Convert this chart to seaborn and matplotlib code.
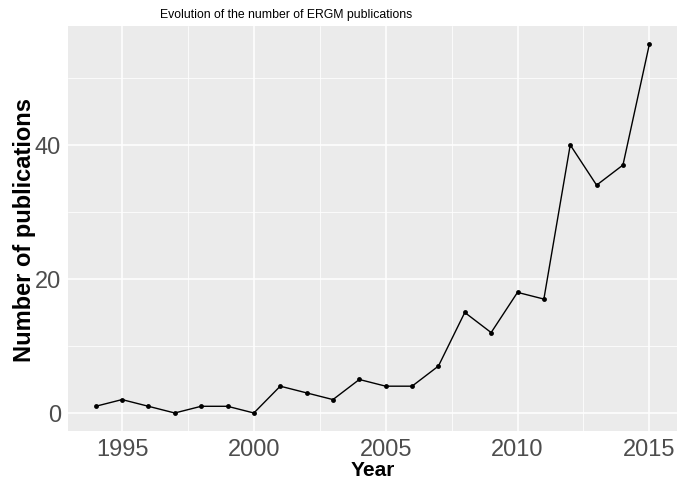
import numpy as np
import pandas as pd
import matplotlib
matplotlib.use("Agg")
import matplotlib.pyplot as plt
import seaborn as sns
from matplotlib.ticker import MultipleLocator

# Data: ERGM publications per year
years = [1994, 1995, 1996, 1997, 1998, 1999, 2000, 2001, 2002, 2003, 2004,
         2005, 2006, 2007, 2008, 2009, 2010, 2011, 2012, 2013, 2014, 2015]
counts = [1, 2, 1, 0, 1, 1, 0, 4, 3, 2, 5,
          4, 4, 7, 15, 12, 18, 17, 40, 34, 37, 55]

df = pd.DataFrame({"Year": years, "Number of publications": counts})

# ggplot-like grey theme
sns.set_style("darkgrid", {"axes.facecolor": "#EBEBEB", "grid.color": "white"})
plt.rcParams["font.family"] = ["Liberation Sans", "DejaVu Sans"]

fig = plt.figure(figsize=(6.8, 4.81), dpi=100)
ax = fig.add_axes([0.1, 0.101, 0.8956, 0.8429])

sns.lineplot(data=df, x="Year", y="Number of publications", ax=ax,
             color="black", linewidth=1.0, marker="o", markersize=3.5,
             markeredgewidth=0)

span_x = max(years) - min(years)
ax.set_xlim(min(years) - 0.05 * span_x, max(years) + 0.05 * span_x)
span_y = max(counts) - min(counts)
ax.set_ylim(min(counts) - 0.05 * span_y, max(counts) + 0.05 * span_y)

ax.xaxis.set_major_locator(MultipleLocator(5))
ax.xaxis.set_minor_locator(MultipleLocator(2.5))
ax.yaxis.set_major_locator(MultipleLocator(20))
ax.yaxis.set_minor_locator(MultipleLocator(10))
ax.grid(which="major", color="white", linewidth=1.1)
ax.grid(which="minor", color="white", linewidth=0.55)
ax.set_axisbelow(True)
for s in ax.spines.values():
    s.set_visible(False)

ax.tick_params(axis="both", which="major", labelsize=17, labelcolor="#4D4D4D",
               color="#333333", length=3, width=0.8, pad=2)
ax.tick_params(axis="both", which="minor", length=0)

ax.set_xlabel("Year", fontsize=15, fontweight="bold", labelpad=0, color="black")
ax.set_ylabel("Number of publications", fontsize=17, fontweight="bold",
              labelpad=-1, color="black")
fig.text(286 / 680, 1 - 15 / 481, "Evolution of the number of ERGM publications",
         ha="center", va="center", fontsize=8.8, color="black")

fig.savefig("out.png", dpi=100)
